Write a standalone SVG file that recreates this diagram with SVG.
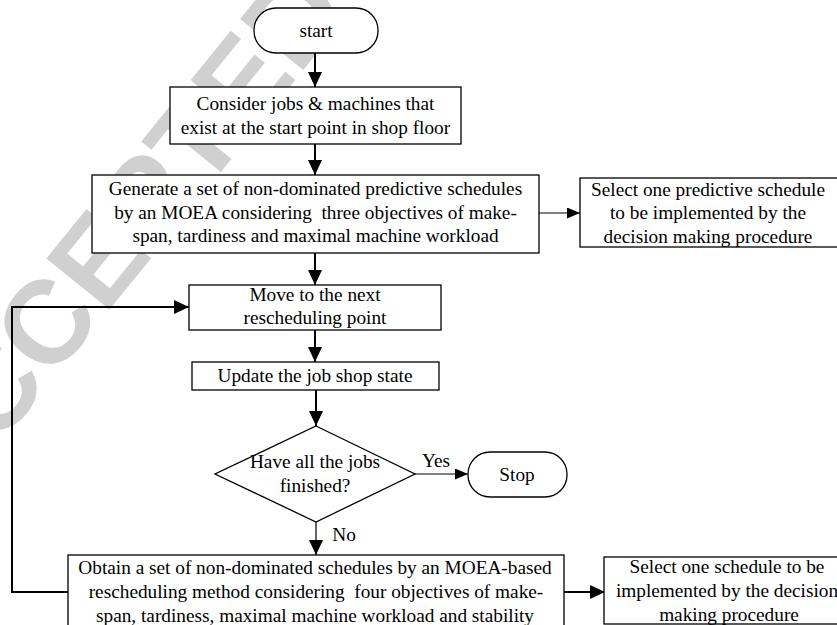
<svg xmlns="http://www.w3.org/2000/svg" width="837" height="625" viewBox="0 0 837 625">
<style>
.box{fill:#fff;stroke:#000;stroke-width:1.3}
.t{font-family:"Liberation Serif","Times New Roman",serif;font-size:19.3px;fill:#000;text-anchor:middle}
.c{fill:none;stroke:#000;stroke-width:2}
.thin{fill:none;stroke:#000;stroke-width:1.2}
.wm{font-family:"Liberation Sans",Arial,sans-serif;font-weight:bold;font-size:118px;fill:#d0d0d0}
</style>
<defs>
<marker id="ah" markerUnits="userSpaceOnUse" markerWidth="15" markerHeight="14" refX="15" refY="7" orient="auto" viewBox="0 0 15 14"><path d="M0,0 L15,7 L0,14 z" fill="#000"/></marker>
<marker id="ahs" markerUnits="userSpaceOnUse" markerWidth="13" markerHeight="11" refX="13" refY="5.5" orient="auto" viewBox="0 0 13 11"><path d="M0,0 L13,5.5 L0,11 z" fill="#000"/></marker>
</defs>
<rect width="837" height="625" fill="#fff"/>
<text class="wm" transform="translate(352,10) rotate(-51)" text-anchor="end">ACCEPTED</text>
<g id="connectors">
<line class="c" x1="315" y1="53" x2="315" y2="87" marker-end="url(#ah)"/>
<line class="c" x1="315" y1="144" x2="315" y2="175" marker-end="url(#ah)"/>
<line class="thin" x1="539" y1="213" x2="580" y2="213" marker-end="url(#ahs)"/>
<line class="c" x1="315" y1="253" x2="315" y2="285" marker-end="url(#ah)"/>
<line class="c" x1="315" y1="330" x2="315" y2="362" marker-end="url(#ah)"/>
<line class="c" x1="316" y1="390" x2="316" y2="426" marker-end="url(#ah)"/>
<line class="thin" x1="415" y1="474" x2="468" y2="474" marker-end="url(#ahs)"/>
<line class="thin" stroke="#333" x1="316" y1="522" x2="316" y2="555" marker-end="url(#ah)"/>
<line class="c" x1="564" y1="592" x2="605" y2="592" marker-end="url(#ah)"/>
<polyline class="c" stroke-width="2.5" points="68,592 12,592 12,307 189,307" marker-end="url(#ah)"/>
<text class="t" x="436" y="467">Yes</text>
<text class="t" x="344" y="541">No</text>
</g>
<g id="start">
<rect class="box" x="254" y="8" width="124" height="45" rx="22"/>
<text class="t" x="316" y="37">start</text>
</g>
<g id="consider">
<rect class="box" x="170" y="87" width="291" height="57"/>
<text class="t" x="315.5" y="110">Consider jobs &amp; machines that</text>
<text class="t" x="315.5" y="134">exist at the start point in shop floor</text>
</g>
<g id="generate">
<rect class="box" x="92" y="175" width="447" height="78"/>
<text class="t" x="315.5" y="195">Generate a set of non-dominated predictive schedules</text>
<text class="t" x="315.5" y="219" xml:space="preserve">by an MOEA considering  three objectives of make-</text>
<text class="t" x="315.5" y="242">span, tardiness and maximal machine workload</text>
</g>
<g id="select1">
<rect class="box" x="580" y="178" width="270" height="69"/>
<text class="t" x="708" y="196">Select one predictive schedule</text>
<text class="t" x="708" y="219">to be implemented by the</text>
<text class="t" x="708" y="243">decision making procedure</text>
</g>
<g id="move">
<rect class="box" x="189" y="285" width="252" height="45"/>
<text class="t" x="315" y="301">Move to the next</text>
<text class="t" x="315" y="324">rescheduling point</text>
</g>
<g id="update">
<rect class="box" x="192" y="362" width="247" height="28"/>
<text class="t" x="315" y="382">Update the job shop state</text>
</g>
<g id="decision">
<polygon class="box" points="316,426 415,474 316,522 215,474"/>
<text class="t" x="315" y="468">Have all the jobs</text>
<text class="t" x="315" y="492">finished?</text>
</g>
<g id="stop">
<rect class="box" x="468" y="452" width="99" height="45" rx="22"/>
<text class="t" x="517" y="481">Stop</text>
</g>
<g id="obtain">
<rect class="box" x="68" y="555" width="496" height="80"/>
<text class="t" x="315" y="574">Obtain a set of non-dominated schedules by an MOEA-based</text>
<text class="t" x="316" y="598" xml:space="preserve">rescheduling method considering  four objectives of make-</text>
<text class="t" x="315" y="622">span, tardiness, maximal machine workload and stability</text>
</g>
<g id="select2">
<rect class="box" x="604" y="557" width="250" height="67"/>
<text class="t" x="727" y="573">Select one schedule to be</text>
<text class="t" x="727" y="597">implemented by the decision</text>
<text class="t" x="729" y="621">making procedure</text>
</g>
</svg>
